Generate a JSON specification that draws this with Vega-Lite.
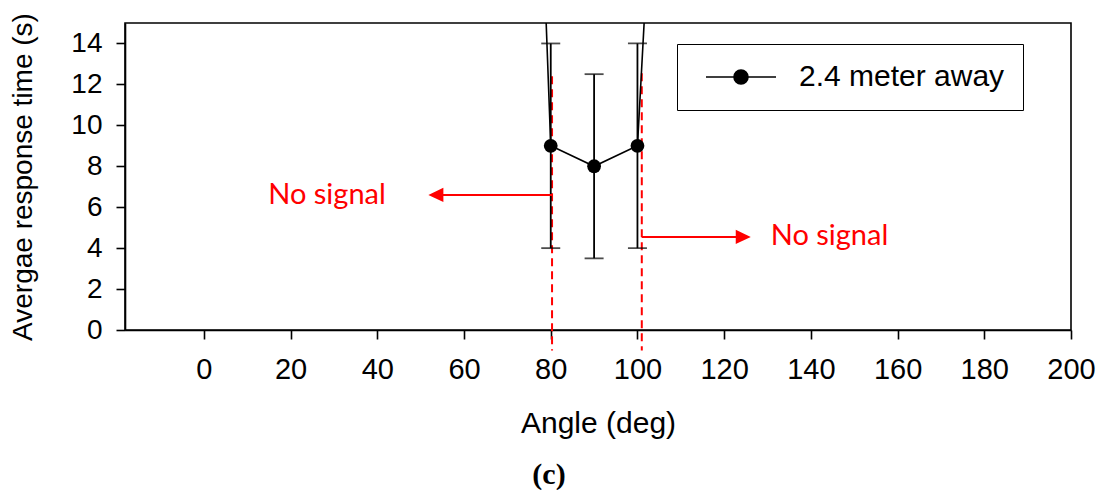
{
  "$schema": "https://vega.github.io/schema/vega-lite/v6.json",
  "width": 946,
  "height": 307,
  "autosize": "none",
  "padding": {"left": 125, "top": 23, "right": 29, "bottom": 160},
  "background": "white",
  "title": {"text": "(c)", "orient": "bottom", "anchor": "middle", "font": "Liberation Serif", "fontWeight": "bold", "fontSize": 30, "color": "black", "offset": 22, "dx": -49},
  "datasets": {
    "main": [
      {"angle": 70, "time": 66, "series": "2.4 meter away"},
      {"angle": 80, "time": 9, "lo": 4, "hi": 14, "series": "2.4 meter away"},
      {"angle": 90, "time": 8, "lo": 3.5, "hi": 12.5, "series": "2.4 meter away"},
      {"angle": 100, "time": 9, "lo": 4, "hi": 14, "series": "2.4 meter away"},
      {"angle": 110, "time": 48, "series": "2.4 meter away"}
    ],
    "guides": [
      {"angle": 80.3, "top": 12.4, "bottom": -1},
      {"angle": 101, "top": 12.55, "bottom": -1}
    ],
    "arrows": [
      {"from": 80.3, "to": 53.5, "level": 6.6, "dir": "left"},
      {"from": 101, "to": 124.4, "level": 4.55, "dir": "right"}
    ],
    "notes": [
      {"angle": 28.4, "level": 6.6, "label": "No signal"},
      {"angle": 144.3, "level": 4.6, "label": "No signal"}
    ]
  },
  "layer": [
    {
      "data": {"name": "guides"},
      "mark": {"type": "rule", "color": "#ff0000", "strokeWidth": 2, "strokeDash": [8, 5]},
      "encoding": {
        "x": {"field": "angle", "type": "quantitative", "scale": {"domain": [-18.2, 200], "nice": false, "zero": false},
          "axis": {"title": "Angle (deg)", "values": [0, 20, 40, 60, 80, 100, 120, 140, 160, 180, 200], "titlePadding": 24, "labelFlush": false}},
        "y": {"field": "top", "type": "quantitative", "scale": {"domain": [0, 15], "nice": false},
          "axis": {"title": "Avergae response time (s)", "values": [0, 2, 4, 6, 8, 10, 12, 14], "titlePadding": 33, "labelFlush": false}},
        "y2": {"field": "bottom"}
      }
    },
    {
      "data": {"name": "main"},
      "mark": {"type": "line", "strokeWidth": 1.6, "clip": true},
      "encoding": {
        "x": {"field": "angle", "type": "quantitative"},
        "y": {"field": "time", "type": "quantitative"},
        "color": {"field": "series", "type": "nominal", "scale": {"range": ["black"]},
          "legend": {
            "title": null, "orient": "none", "legendX": 552, "legendY": 21,
            "strokeColor": "black", "padding": 18, "fillColor": "white",
            "symbolType": "M-5,0L5,0M1,0A1,1,0,1,1,-1,0A1,1,0,1,1,1,0Z",
            "symbolSize": 196, "symbolOffset": 31, "labelOffset": 43,
            "symbolStrokeColor": "black", "symbolFillColor": "black", "symbolStrokeWidth": 1.6,
            "labelFont": "Liberation Sans", "labelFontSize": 30, "labelColor": "black", "labelLimit": 400,
            "encode": {"symbols": {"update": {"fill": {"value": "black"}, "stroke": {"value": "black"}, "strokeWidth": {"value": 1.6}, "opacity": {"value": 1}}}}
          }}
      }
    },
    {
      "data": {"name": "main"},
      "transform": [{"filter": "isValid(datum.lo)"}],
      "mark": {"type": "rule", "color": "black", "strokeWidth": 1.8},
      "encoding": {
        "x": {"field": "angle", "type": "quantitative"},
        "y": {"field": "lo", "type": "quantitative"},
        "y2": {"field": "hi"}
      }
    },
    {
      "data": {"name": "main"},
      "transform": [{"filter": "isValid(datum.lo)"}],
      "mark": {"type": "tick", "orient": "horizontal", "color": "black", "size": 19, "thickness": 1.8},
      "encoding": {
        "x": {"field": "angle", "type": "quantitative"},
        "y": {"field": "lo", "type": "quantitative"}
      }
    },
    {
      "data": {"name": "main"},
      "transform": [{"filter": "isValid(datum.hi)"}],
      "mark": {"type": "tick", "orient": "horizontal", "color": "black", "size": 19, "thickness": 1.8},
      "encoding": {
        "x": {"field": "angle", "type": "quantitative"},
        "y": {"field": "hi", "type": "quantitative"}
      }
    },
    {
      "data": {"name": "main"},
      "transform": [{"filter": "isValid(datum.lo)"}],
      "mark": {"type": "point", "filled": true, "opacity": 1, "size": 190, "color": "black"},
      "encoding": {
        "x": {"field": "angle", "type": "quantitative"},
        "y": {"field": "time", "type": "quantitative"}
      }
    },
    {
      "data": {"name": "arrows"},
      "mark": {"type": "rule", "color": "#ff0000", "strokeWidth": 2},
      "encoding": {
        "x": {"field": "from", "type": "quantitative"},
        "x2": {"field": "to"},
        "y": {"field": "level", "type": "quantitative"}
      }
    },
    {
      "data": {"name": "arrows"},
      "mark": {"type": "point", "filled": true, "opacity": 1, "color": "#ff0000", "size": 225},
      "encoding": {
        "x": {"field": "to", "type": "quantitative"},
        "y": {"field": "level", "type": "quantitative"},
        "shape": {"field": "dir", "type": "nominal", "scale": {"domain": ["left", "right"], "range": ["M-1,0L1,-0.95L1,0.95Z", "M1,0L-1,-0.95L-1,0.95Z"]}, "legend": null}
      }
    },
    {
      "data": {"name": "notes"},
      "mark": {"type": "text", "color": "#ff0000", "font": "Lato", "fontSize": 29, "align": "center", "baseline": "middle"},
      "encoding": {
        "x": {"field": "angle", "type": "quantitative"},
        "y": {"field": "level", "type": "quantitative"},
        "text": {"field": "label"}
      }
    }
  ],
  "config": {
    "view": {"stroke": "black", "strokeWidth": 1.6},
    "axis": {
      "grid": false, "domainColor": "black", "domainWidth": 1.6, "tickColor": "black", "tickWidth": 1.6, "tickSize": 9,
      "labelFont": "Liberation Sans", "labelFontSize": 28, "labelColor": "black",
      "titleFont": "Liberation Sans", "titleFontSize": 28, "titleFontWeight": "normal", "titleColor": "black"
    },
    "axisX": {"labelPadding": 16, "labelFontSize": 29, "titleFontSize": 30},
    "axisY": {"labelPadding": 14}
  }
}
